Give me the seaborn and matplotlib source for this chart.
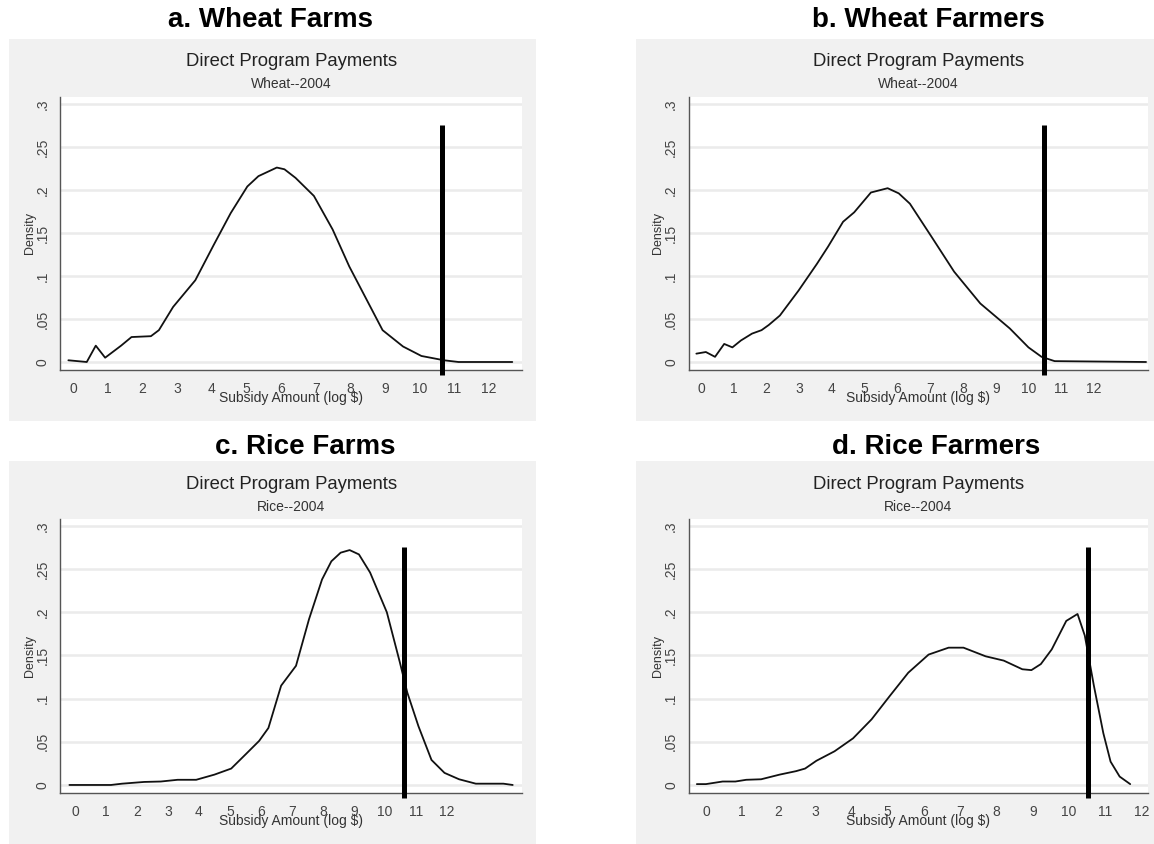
"""
Direct program payments: kernel density of log subsidy amounts, 2004
"""

# %% Imports
import matplotlib
matplotlib.use("Agg")
import matplotlib.pyplot as plt
from matplotlib.patches import Rectangle
import seaborn as sns
import pandas as pd

# %% Data
panel_titles = ["a. Wheat Farms", "b. Wheat Farmers", "c. Rice Farms", "d. Rice Farmers"]
panel_subtitles = ["Wheat--2004", "Wheat--2004", "Rice--2004", "Rice--2004"]

wheat_farms_x = [-0.13, 0.4, 0.66, 0.93, 1.39, 1.69, 2.25, 2.48, 2.89, 3.53, 4.06, 4.55, 5.03, 5.35,
                 5.88, 6.1, 6.42, 6.95, 7.49, 7.97, 8.45, 8.93, 9.52, 10.05, 10.7, 11.12, 12.67]
wheat_farms_y = [0.002, 0.0, 0.019, 0.005, 0.019, 0.029, 0.030, 0.037, 0.064, 0.095, 0.136, 0.173, 0.204, 0.216,
                 0.226, 0.224, 0.214, 0.193, 0.154, 0.111, 0.074, 0.037, 0.018, 0.007, 0.002, 0.0, 0.0]

wheat_farmers_x = [-0.14, 0.15, 0.43, 0.71, 0.96, 1.22, 1.56, 1.85, 2.07, 2.41, 2.98, 3.54, 3.88, 4.34,
                   4.68, 5.19, 5.7, 6.04, 6.38, 7.05, 7.73, 8.53, 9.43, 10.0, 10.4, 10.8, 13.59]
wheat_farmers_y = [0.0097, 0.0116, 0.006, 0.021, 0.017, 0.025, 0.033, 0.037, 0.043, 0.054, 0.083, 0.114, 0.134, 0.163,
                   0.174, 0.197, 0.202, 0.196, 0.184, 0.145, 0.105, 0.068, 0.039, 0.017, 0.006, 0.001, 0.0]

rice_farms_x = [-0.18, 1.16, 1.52, 2.23, 2.77, 3.31, 3.91, 4.5, 5.04, 5.52, 5.94, 6.24, 6.65, 7.13, 7.55,
                7.97, 8.27, 8.57, 8.86, 9.16, 9.52, 10.06, 10.48, 10.72, 11.08, 11.5, 11.92, 12.39, 12.93,
                13.82, 14.12]
rice_farms_y = [0.0, 0.0, 0.0015, 0.0035, 0.004, 0.006, 0.006, 0.012, 0.019, 0.036, 0.051, 0.066, 0.115, 0.138, 0.192,
                0.238, 0.259, 0.269, 0.272, 0.267, 0.246, 0.200, 0.142, 0.107, 0.068, 0.029, 0.014, 0.0066, 0.0015,
                0.0015, 0.0]

rice_farmers_x = [-0.25, 0.0, 0.46, 0.81, 1.11, 1.52, 2.03, 2.48, 2.73, 3.04, 3.54, 4.05, 4.56, 5.06, 5.57,
                  6.13, 6.68, 7.09, 7.7, 8.2, 8.71, 8.96, 9.22, 9.52, 9.92, 10.23, 10.43, 10.68, 10.94, 11.14,
                  11.39, 11.68]
rice_farmers_y = [0.001, 0.001, 0.004, 0.004, 0.006, 0.0066, 0.012, 0.016, 0.019, 0.028, 0.039, 0.054, 0.076, 0.103, 0.130,
                  0.151, 0.159, 0.159, 0.149, 0.144, 0.134, 0.133, 0.140, 0.157, 0.190, 0.198, 0.173, 0.115, 0.060, 0.027,
                  0.0097, 0.001]

# payment limit cut-off (vertical bar) per panel
cutoffs = [10.64, 10.47, 10.62, 10.53]

x_ticks = list(range(0, 13))
y_ticks = [0, 0.05, 0.1, 0.15, 0.2, 0.25, 0.3]
y_tick_labels = ["0", ".05", ".1", ".15", ".2", ".25", ".3"]

curves = [(wheat_farms_x, wheat_farms_y), (wheat_farmers_x, wheat_farmers_y),
          (rice_farms_x, rice_farms_y), (rice_farmers_x, rice_farmers_y)]

# %% Layout (pixel measurements of the original, 1154x844)
W, H = 1154, 844
xlims = [(-0.36, 12.95), (-0.38, 13.65), (-0.47, 14.42), (-0.48, 12.17)]
ylim = (-0.0093, 0.308)
# axes boxes: left, right, top, bottom (px)
boxes = [(60.4, 522, 97, 370), (688.5, 1148, 97, 370),
         (60.4, 522, 519, 793), (688.5, 1148, 519, 793)]
# grey graph regions: left, right, top, bottom (px)
regions = [(9, 536, 39, 421), (636, 1160, 39, 421),
           (9, 536, 461, 844), (636, 1160, 461, 844)]
title_pos = [(270, 20), (928, 20), (305, 447), (936, 447)]

sns.set_style("white")
plt.rcParams['font.family'] = ['Liberation Sans', 'DejaVu Sans']

fig = plt.figure(figsize=(W / 100, H / 100), dpi=100)

for i, (x, y) in enumerate(curves):
    l, r, t, b = regions[i]
    fig.patches.append(Rectangle((l / W, 1 - b / H), (r - l) / W, (b - t) / H,
                                 transform=fig.transFigure, facecolor="#f1f1f1",
                                 edgecolor="none", zorder=-10))
    fig.text(title_pos[i][0] / W, 1 - title_pos[i][1] / H, panel_titles[i],
             ha="center", va="center", fontsize=20, fontweight="bold", color="black")

    l, r, t, b = boxes[i]
    ax = fig.add_axes([l / W, 1 - b / H, (r - l) / W, (b - t) / H])
    ax.set_facecolor("white")

    df = pd.DataFrame({"x": x, "y": y})
    sns.lineplot(data=df, x="x", y="y", ax=ax, color="#111111", lw=1.3,
                 sort=False, estimator=None)
    ax.plot([cutoffs[i], cutoffs[i]], [-0.015, 0.275], color="black", lw=3.6,
            solid_capstyle="butt", clip_on=False, zorder=5)

    ax.set_xlim(*xlims[i])
    ax.set_ylim(*ylim)
    ax.set_xticks(x_ticks)
    ax.set_yticks(y_ticks)
    ax.set_yticklabels(y_tick_labels, rotation=90, va="center")
    ax.grid(axis="y", color="#ebebeb", lw=1.8)
    ax.set_axisbelow(True)
    for side in ["top", "right"]:
        ax.spines[side].set_visible(False)
    for side in ["left", "bottom"]:
        ax.spines[side].set_color("#555555")
        ax.spines[side].set_linewidth(1.0)
    ax.tick_params(axis="both", direction="out", length=3.5, width=0.8, color="#555555",
                   labelsize=10, labelcolor="#444444", pad=4)
    ax.tick_params(axis="x", pad=5)

    ax.set_xlabel("Subsidy Amount (log $)", fontsize=10, color="#333333", va="center")
    ax.xaxis.set_label_coords(0.5, -(398 - 370) / (b - t))
    ax.set_ylabel("Density", fontsize=9, color="#333333", va="center")
    ax.yaxis.set_label_coords(-30.5 / (r - l), 0.5)

    ax.text(0.5, (b - (62 if i < 2 else 485)) / (b - t), "Direct Program Payments",
            transform=ax.transAxes, ha="center", va="center", fontsize=13.3, color="#222222")
    ax.text(0.5, (b - (84 if i < 2 else 507)) / (b - t), panel_subtitles[i],
            transform=ax.transAxes, ha="center", va="center", fontsize=10, color="#333333")

plt.savefig("out.png", dpi=100)
